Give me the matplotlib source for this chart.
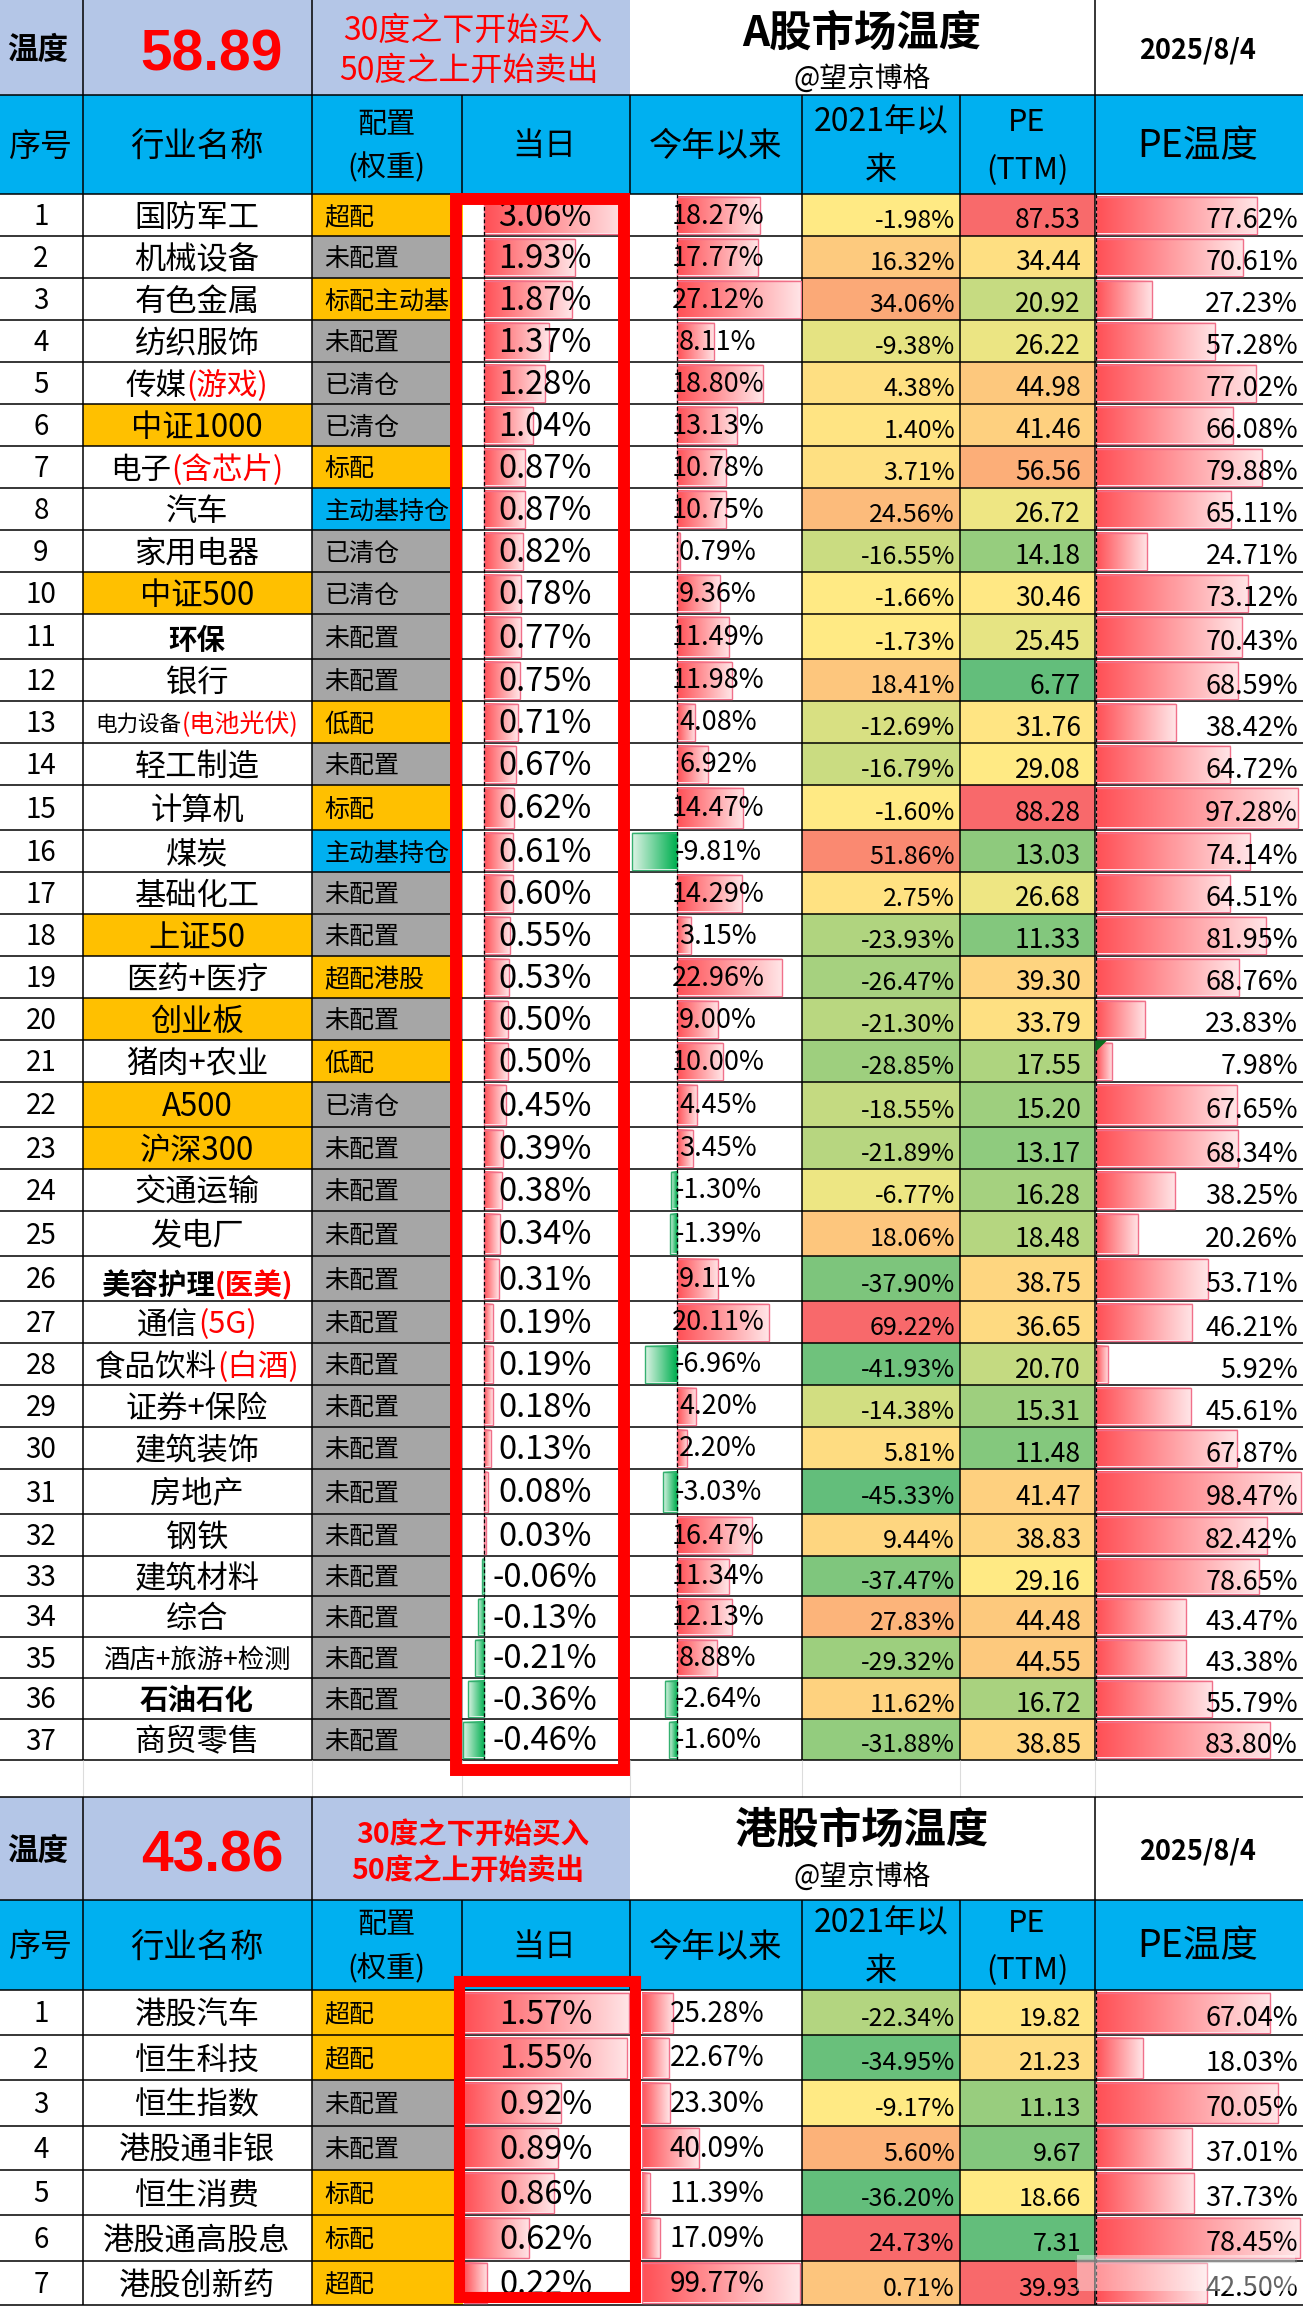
import numpy as np
import matplotlib
matplotlib.use("Agg")
import matplotlib.pyplot as plt
from matplotlib.colors import LinearSegmentedColormap, to_rgb
from matplotlib.patches import Rectangle, Polygon

FAM = ['Noto Sans CJK SC', 'DejaVu Sans']
plt.rcParams['font.family'] = FAM

# ---------- data: A shares ----------
a_names = ['国防军工','机械设备','有色金属','纺织服饰','传媒','中证1000','电子','汽车','家用电器','中证500',
           '环保','银行','电力设备','轻工制造','计算机','煤炭','基础化工','上证50','医药+医疗','创业板',
           '猪肉+农业','A500','沪深300','交通运输','发电厂','美容护理','通信','食品饮料','证券+保险','建筑装饰',
           '房地产','钢铁','建筑材料','综合','酒店+旅游+检测','石油石化','商贸零售']
a_suffix = {'传媒':'(游戏)','电子':'(含芯片)','电力设备':'(电池光伏)','美容护理':'(医美)','通信':'(5G)','食品饮料':'(白酒)'}
a_config = ['超配','未配置','标配主动基','未配置','已清仓','已清仓','标配','主动基持仓','已清仓','已清仓',
            '未配置','未配置','低配','未配置','标配','主动基持仓','未配置','未配置','超配港股','未配置',
            '低配','已清仓','未配置','未配置','未配置','未配置','未配置','未配置','未配置','未配置',
            '未配置','未配置','未配置','未配置','未配置','未配置','未配置']
a_today = [3.06,1.93,1.87,1.37,1.28,1.04,0.87,0.87,0.82,0.78,0.77,0.75,0.71,0.67,0.62,0.61,0.60,0.55,0.53,0.50,
           0.50,0.45,0.39,0.38,0.34,0.31,0.19,0.19,0.18,0.13,0.08,0.03,-0.06,-0.13,-0.21,-0.36,-0.46]
a_ytd = [18.27,17.77,27.12,8.11,18.80,13.13,10.78,10.75,0.79,9.36,11.49,11.98,4.08,6.92,14.47,-9.81,14.29,3.15,22.96,9.00,
         10.00,4.45,3.45,-1.30,-1.39,9.11,20.11,-6.96,4.20,2.20,-3.03,16.47,11.34,12.13,8.88,-2.64,-1.60]
a_2021 = [-1.98,16.32,34.06,-9.38,4.38,1.40,3.71,24.56,-16.55,-1.66,-1.73,18.41,-12.69,-16.79,-1.60,51.86,2.75,-23.93,-26.47,-21.30,
          -28.85,-18.55,-21.89,-6.77,18.06,-37.90,69.22,-41.93,-14.38,5.81,-45.33,9.44,-37.47,27.83,-29.32,11.62,-31.88]
a_pe = [87.53,34.44,20.92,26.22,44.98,41.46,56.56,26.72,14.18,30.46,25.45,6.77,31.76,29.08,88.28,13.03,26.68,11.33,39.30,33.79,
        17.55,15.20,13.17,16.28,18.48,38.75,36.65,20.70,15.31,11.48,41.47,38.83,29.16,44.48,44.55,16.72,38.85]
a_temp = [77.62,70.61,27.23,57.28,77.02,66.08,79.88,65.11,24.71,73.12,70.43,68.59,38.42,64.72,97.28,74.14,64.51,81.95,68.76,23.83,
          7.98,67.65,68.34,38.25,20.26,53.71,46.21,5.92,45.61,67.87,98.47,82.42,78.65,43.47,43.38,55.79,83.80]
a_score = '58.89'

# ---------- data: HK shares ----------
h_names = ['港股汽车','恒生科技','恒生指数','港股通非银','恒生消费','港股通高股息','港股创新药']
h_config = ['超配','超配','未配置','未配置','标配','标配','超配']
h_today = [1.57,1.55,0.92,0.89,0.86,0.62,0.22]
h_ytd = [25.28,22.67,23.30,40.09,11.39,17.09,99.77]
h_2021 = [-22.34,-34.95,-9.17,5.60,-36.20,24.73,0.71]
h_pe = [19.82,21.23,11.13,9.67,18.66,7.31,39.93]
h_temp = [67.04,18.03,70.05,37.01,37.73,78.45,42.50]
h_score = '43.86'

date_label = '2025/8/4'
highlight_names = ['中证1000','中证500','上证50','创业板','A500','沪深300']
bold_names = {'环保':5,'美容护理':7,'石油石化':3}

# ---------- layout (pixels) ----------
W, H = 1303, 2306
X = [0, 82.5, 311.5, 461.5, 630, 802, 960, 1094.5, 1303]
a_edges = [194,236,278,320,362,404,446,488,530,572,614,659,701,743,785,830,872,914,956,998,1040,1082,1127,1169,1211,
           1256,1301,1343,1385,1427,1469,1514,1556,1596,1637,1678,1719,1760]
h_edges = [1990,2035,2080,2125.5,2170,2215,2260.5,2305]

BANNER = '#B4C6E7'; HEAD = '#00B0F0'; ORANGE = '#FFC000'; GRAY = '#A6A6A6'; LINE = '#000000'
cfg_color = {'超配':ORANGE,'未配置':GRAY,'标配主动基':ORANGE,'已清仓':GRAY,'标配':ORANGE,'主动基持仓':HEAD,'低配':ORANGE,'超配港股':ORANGE}
scale_cmap = LinearSegmentedColormap.from_list('cs', ['#63BE7B', '#FFEB84', '#F8696B'])

fig = plt.figure(figsize=(W/100, H/100), dpi=100, facecolor='white')
bg = fig.add_axes([0,0,1,1], zorder=0); bg.set_xlim(0,W); bg.set_ylim(H,0); bg.axis('off')
top = fig.add_axes([0,0,1,1], zorder=3); top.set_xlim(0,W); top.set_ylim(H,0); top.axis('off'); top.patch.set_alpha(0)
rend = fig.canvas.get_renderer()

def rect(x0, y0, x1, y1, color, ax=bg, z=1):
    ax.add_patch(Rectangle((x0,y0), x1-x0, y1-y0, facecolor=color, edgecolor='none', zorder=z))

def txt(x, y, s, size, ha='center', color='black', weight='normal', family=None):
    return top.text(x, y, s, fontsize=size, ha=ha, va='center', color=color, fontweight=weight, family=family or FAM)

def rich(cx, cy, parts):
    ts = [top.text(0, cy, s, fontsize=fs, ha='left', va='center', color=c, fontweight=w, family=FAM) for s,c,fs,w in parts]
    widths = [t.get_window_extent(rend).width for t in ts]
    x = cx - sum(widths)/2
    for t, w in zip(ts, widths):
        t.set_x(x); x += w

def hline(y, x0=0, x1=W, c=LINE, lw=1.1):
    bg.plot([x0,x1],[y,y],color=c,lw=lw,zorder=3,solid_capstyle='butt')
def vline(x, y0, y1, c=LINE, lw=1.1):
    bg.plot([x,x],[y0,y1],color=c,lw=lw,zorder=3,solid_capstyle='butt')

def grad(dark, light, n=64):
    d, l = np.array(to_rgb(dark)), np.array(to_rgb(light))
    return np.array([[d + (l-d)*t for t in np.linspace(0,1,n)]])

POS = grad('#FF5056', '#FFE4E6'); NEG = grad('#00B050', '#DDF3E5')

def bar_col(px0, px1, zero_px, ppu, vals, edges, base=0.0, axis_line=True):
    y0, y1 = edges[0], edges[-1]
    ax = fig.add_axes([px0/W, 1-y1/H, (px1-px0)/W, (y1-y0)/H], zorder=1)
    ax.axis('off'); ax.patch.set_alpha(0)
    for v, t, b in zip(vals, edges[:-1], edges[1:]):
        im = POS if v >= 0 else NEG
        ec = '#F0708A' if v >= 0 else '#35B070'
        ax.imshow(im, extent=(base, v, b-2.5, t+2.5), aspect='auto', interpolation='bilinear', zorder=1)
        ax.barh((t+b)/2, v-base, left=base, height=b-t-5, facecolor='none', edgecolor=ec, lw=1.0, zorder=2)
    if axis_line:
        ax.plot([base,base],[y0,y1],color='black',lw=0.9,ls=(0,(3,2)),zorder=3)
    ax.set_xlim(base+(px0-zero_px)/ppu, base+(px1-zero_px)/ppu)
    ax.set_ylim(y1, y0)
    return ax

def scale_colors(vals):
    v = np.array(vals); lo, mid, hi = v.min(), np.median(v), v.max()
    return [scale_cmap(0.5*(x-lo)/(mid-lo) if x <= mid else 0.5+0.5*(x-mid)/(hi-mid)) for x in v]

def banner(y0, y1, y2, score, note, title, title_size, at_size):
    rect(0, y0, X[4], y1, BANNER)
    rect(0, y1, W, y2, HEAD)
    cy = (y0+y1)/2
    txt(38, cy+2, '温度', 22, weight='bold')
    txt(212, cy+8, score, 41, color='#FF0000', weight='bold', family='Liberation Sans')
    txt(note['x1'], y0+note['y1'], '30度之下开始买入', note['fs'], color='#FF0000', weight=note['w'])
    txt(note['x2'], y0+note['y2'], '50度之上开始卖出', note['fs'], color='#FF0000', weight=note['w'])
    txt(862, y0+title_size+3, title, title_size, weight='bold')
    txt(862, y0+79, '@望京博格', at_size, weight='bold' if at_size < 19 else 'normal')
    txt(1198, cy+3, date_label, 19.5, weight='bold')
    m = (y1+y2)/2 + 2
    txt(41, m, '序号', 23); txt(197, m, '行业名称', 24)
    txt(386, m-22, '配置', 21); txt(386, m+22, '(权重)', 21)
    txt(544, m, '当日', 23); txt(716, m, '今年以来', 24)
    txt(881, m-24, '2021年以', 23); txt(881, m+24, '来', 23)
    txt(1027, m-24, 'PE', 22); txt(1027, m+24, '(TTM)', 22)
    txt(1198, m, 'PE温度', 27)
    for x in X[1:3]:
        vline(x, y0, y2)
    vline(X[7], y0, y2)
    for x in X[3:7]:
        vline(x, y1, y2)
    hline(y1); hline(y2)

def table(names, config, today, ytd, r21, pe, temp, edges, s):
    c21, cpe = scale_colors(r21), scale_colors(pe)
    for i, n in enumerate(names):
        t, b = edges[i], edges[i+1]; m = (t+b)/2
        if n in highlight_names:
            rect(X[1], t, X[2], b, ORANGE)
        rect(X[2], t, X[3]+1, b, cfg_color[config[i]])
        rect(X[5], t, X[6], b, c21[i]); rect(X[6], t, X[7], b, cpe[i])
        txt(41, m+2, str(i+1), 20, weight='light')
        suffix = a_suffix.get(n)
        nm = m + 3
        if n == '电力设备':
            rich(197, nm, [(n,'black',15.5,'normal'), (suffix,'#FF0000',18,'normal')])
        elif suffix:
            w = 'bold' if n in bold_names else 'normal'
            sz = 20.5 if n in bold_names else 22
            rich(197, m+bold_names.get(n,3), [(n,'black',sz,w), (suffix,'#FF0000',sz,w)])
        elif n == '酒店+旅游+检测':
            txt(197, nm, n, 19)
        else:
            w = 'bold' if n in bold_names else 'normal'
            txt(197, m+bold_names.get(n,3), n, 20.5 if n in bold_names else 22.5, weight=w)
        txt(324.5, m+3, config[i], 18, ha='left')
        txt(s['today_c'], m+2, f'{today[i]:.2f}%', 23.5)
        txt(s['ytd_c'], m+1, f'{ytd[i]:.2f}%', s['ytd_fs'])
        txt(955, m+6, f'{r21[i]:.2f}%', s['r21_fs'], ha='right')
        txt(1081, m+6, f'{pe[i]:.2f}', s['pe_fs'], ha='right')
        txt(1298, m+6, f'{temp[i]:.2f}%', 19.5, ha='right')
        hline(b)
    for x in (X[1], X[2], X[5], X[6], X[7]):
        vline(x, edges[0], edges[-1])

# ---------- first table ----------
banner(0, 95, 194, a_score,
       dict(x1=473, x2=469, y1=31, y2=71, fs=23, w='normal'),
       'A股市场温度', 30.5, 20)
bar_col(462, 630, 484.5, 47.0, a_today, a_edges)
bar_col(630, 802, 676.8, 4.57, a_ytd, a_edges)
bar_col(1095.5, 1303, 1095.8, 2.08, a_temp, a_edges)
table(a_names, a_config, a_today, a_ytd, a_2021, a_pe, a_temp, a_edges,
      dict(today_c=545, ytd_c=718, ytd_fs=19.5, r21_fs=18, pe_fs=19))
top.add_patch(Rectangle((455.5,199), 168.5, 1571, fill=False, edgecolor='#FF0000', lw=8.6, joinstyle='miter', zorder=9))
top.add_patch(Polygon([(1095.5,1040.5),(1107,1040.5),(1095.5,1052)], closed=True, facecolor='#0B6E1E', edgecolor='none', zorder=5))

# gap between tables
for x in X[1:8]:
    vline(x, 1760, 1797, c='#DCDCDC', lw=0.8)

# ---------- second table ----------
hline(1797.4)
banner(1797.4, 1900, 1990, h_score,
       dict(x1=473, x2=468, y1=37, y2=73, fs=20.5, w='bold'),
       '港股市场温度', 30.5, 20)
bar_col(463.5, 630, 463.7, 105.5, h_today, h_edges, axis_line=False)
bar_col(642, 802, 642.4, 1.704, h_ytd, h_edges, base=7.05, axis_line=False)
bar_col(1095.5, 1303, 1096, 2.6, h_temp, h_edges)
table(h_names, h_config, h_today, h_ytd, h_2021, h_pe, h_temp, h_edges,
      dict(today_c=546, ytd_c=717, ytd_fs=20, r21_fs=18, pe_fs=18))
top.add_patch(Rectangle((458.5,1981), 176.5, 316, fill=False, edgecolor='#FF0000', lw=8, joinstyle='miter', zorder=9))

# watermark smudge over the lower right corner
top.add_patch(Rectangle((1077,2255), 218, 36, facecolor='white', edgecolor='none', alpha=0.4, zorder=8))
top.plot([1077,1295],[2261,2261], color='#9A9A9A', lw=3, alpha=0.35, zorder=8)

fig.savefig('out.png', dpi=100, facecolor='white')
